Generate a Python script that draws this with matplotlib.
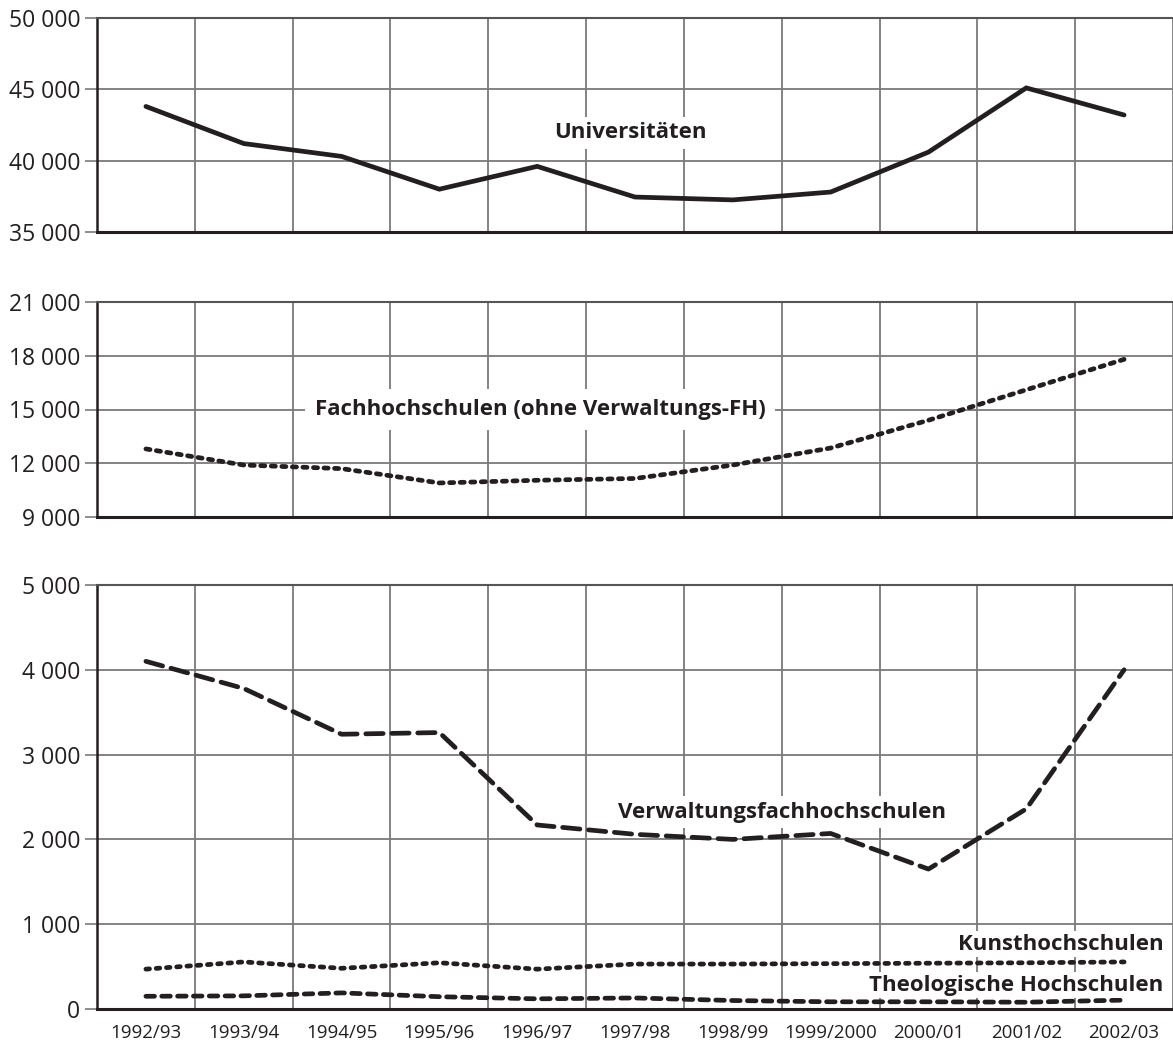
import matplotlib
matplotlib.use('Agg')
import matplotlib.pyplot as plt
from matplotlib.ticker import FuncFormatter, MultipleLocator
import numpy

plt.rcParams['font.family'] = ['Open Sans', 'DejaVu Sans']
plt.rcParams['lines.scale_dashes'] = False

semester = ['1992/93', '1993/94', '1994/95', '1995/96', '1996/97', '1997/98',
            '1998/99', '1999/2000', '2000/01', '2001/02', '2002/03']

universitaeten = [43800, 41200, 40300, 38000, 39600, 37450, 37250, 37800, 40600, 45100, 43200]
fachhochschulen = [12800, 11900, 11700, 10900, 11050, 11150, 11900, 12850, 14400, 16100, 17800]
verwaltungs_fh = [4100, 3780, 3240, 3260, 2170, 2060, 2000, 2070, 1650, 2360, 4000]
kunsthochschulen = [470, 555, 480, 545, 470, 530, 530, 535, 540, 545, 555]
theologische = [150, 155, 190, 145, 120, 130, 100, 85, 85, 80, 105]

ink = '#231f20'
gridgray = '#7a7a7a'
x = numpy.arange(len(semester))

W, H = 1173, 1048
fig = plt.figure(figsize=(W / 100, H / 100), dpi=100)


def make_axes(top_px, bottom_px, ymin, ymax, step):
    ax = fig.add_axes([97 / W, 1 - bottom_px / H, 1 - 97 / W, (bottom_px - top_px) / H])
    ax.set_xlim(-0.5, 10.5)
    ax.set_ylim(ymin, ymax)
    ax.yaxis.set_major_locator(MultipleLocator(step))
    ax.yaxis.set_major_formatter(FuncFormatter(lambda v, p: '{:,.0f}'.format(v).replace(',', ' ')))
    ax.xaxis.set_minor_locator(MultipleLocator(1, offset=0.5))
    ax.set_xticks(x)
    ax.grid(True, which='minor', axis='x', color=gridgray, lw=1.3)
    ax.grid(True, which='major', axis='y', color=gridgray, lw=1.3)
    ax.tick_params(axis='x', which='both', length=0)
    ax.tick_params(axis='y', length=9, width=1.2, color=gridgray, labelsize=16.5, labelcolor=ink, pad=3)
    ax.spines['right'].set_visible(False)
    ax.spines['top'].set_color('#555555')
    ax.spines['top'].set_linewidth(1.5)
    ax.spines['left'].set_color(ink)
    ax.spines['left'].set_linewidth(1.8)
    ax.spines['bottom'].set_color(ink)
    ax.spines['bottom'].set_linewidth(2.2)
    ax.set_axisbelow(True)
    return ax


ax1 = make_axes(18, 232, 35000, 50000, 5000)
ax2 = make_axes(302, 517, 9000, 21000, 3000)
ax3 = make_axes(585, 1009, 0, 5000, 1000)

for ax in (ax1, ax2):
    ax.set_xticklabels([])
ax3.set_xticklabels(semester, fontsize=13.5, color=ink)
ax3.tick_params(axis='x', pad=11)

lw = 3.4
ax1.plot(x, universitaeten, color=ink, lw=lw, solid_capstyle='round', solid_joinstyle='miter')
ax2.plot(x, fachhochschulen, color=ink, lw=lw, dashes=(3.0, 4.6), dash_capstyle='round')
ax3.plot(x, verwaltungs_fh, color=ink, lw=lw, dashes=(12.5, 6.2), dash_capstyle='round')
ax3.plot(x, kunsthochschulen, color=ink, lw=lw, dashes=(2.6, 4.8), dash_capstyle='round')
ax3.plot(x, theologische, color=ink, lw=lw, dashes=(6.2, 5.2), dash_capstyle='round')

lab = dict(fontsize=16, fontweight='bold', color=ink, va='center')

ax1.text(4.95, 41950, 'Universitäten', ha='center',
         bbox=dict(facecolor='white', edgecolor='none', pad=4), **lab)
ax2.text(4.03, 15000, 'Fachhochschulen (ohne Verwaltungs-FH)', ha='center',
         bbox=dict(facecolor='white', edgecolor='none', pad=7), **lab)
ax3.text(6.5, 2320, 'Verwaltungsfachhochschulen', ha='center',
         bbox=dict(facecolor='white', edgecolor='none', pad=4), **lab)
ax3.text(10.4, 766, 'Kunsthochschulen', ha='right',
         bbox=dict(facecolor='white', edgecolor='none', pad=2), **lab)
ax3.text(10.4, 283, 'Theologische Hochschulen', ha='right',
         bbox=dict(facecolor='white', edgecolor='none', pad=2), **lab)

fig.savefig('out.png', dpi=100)
